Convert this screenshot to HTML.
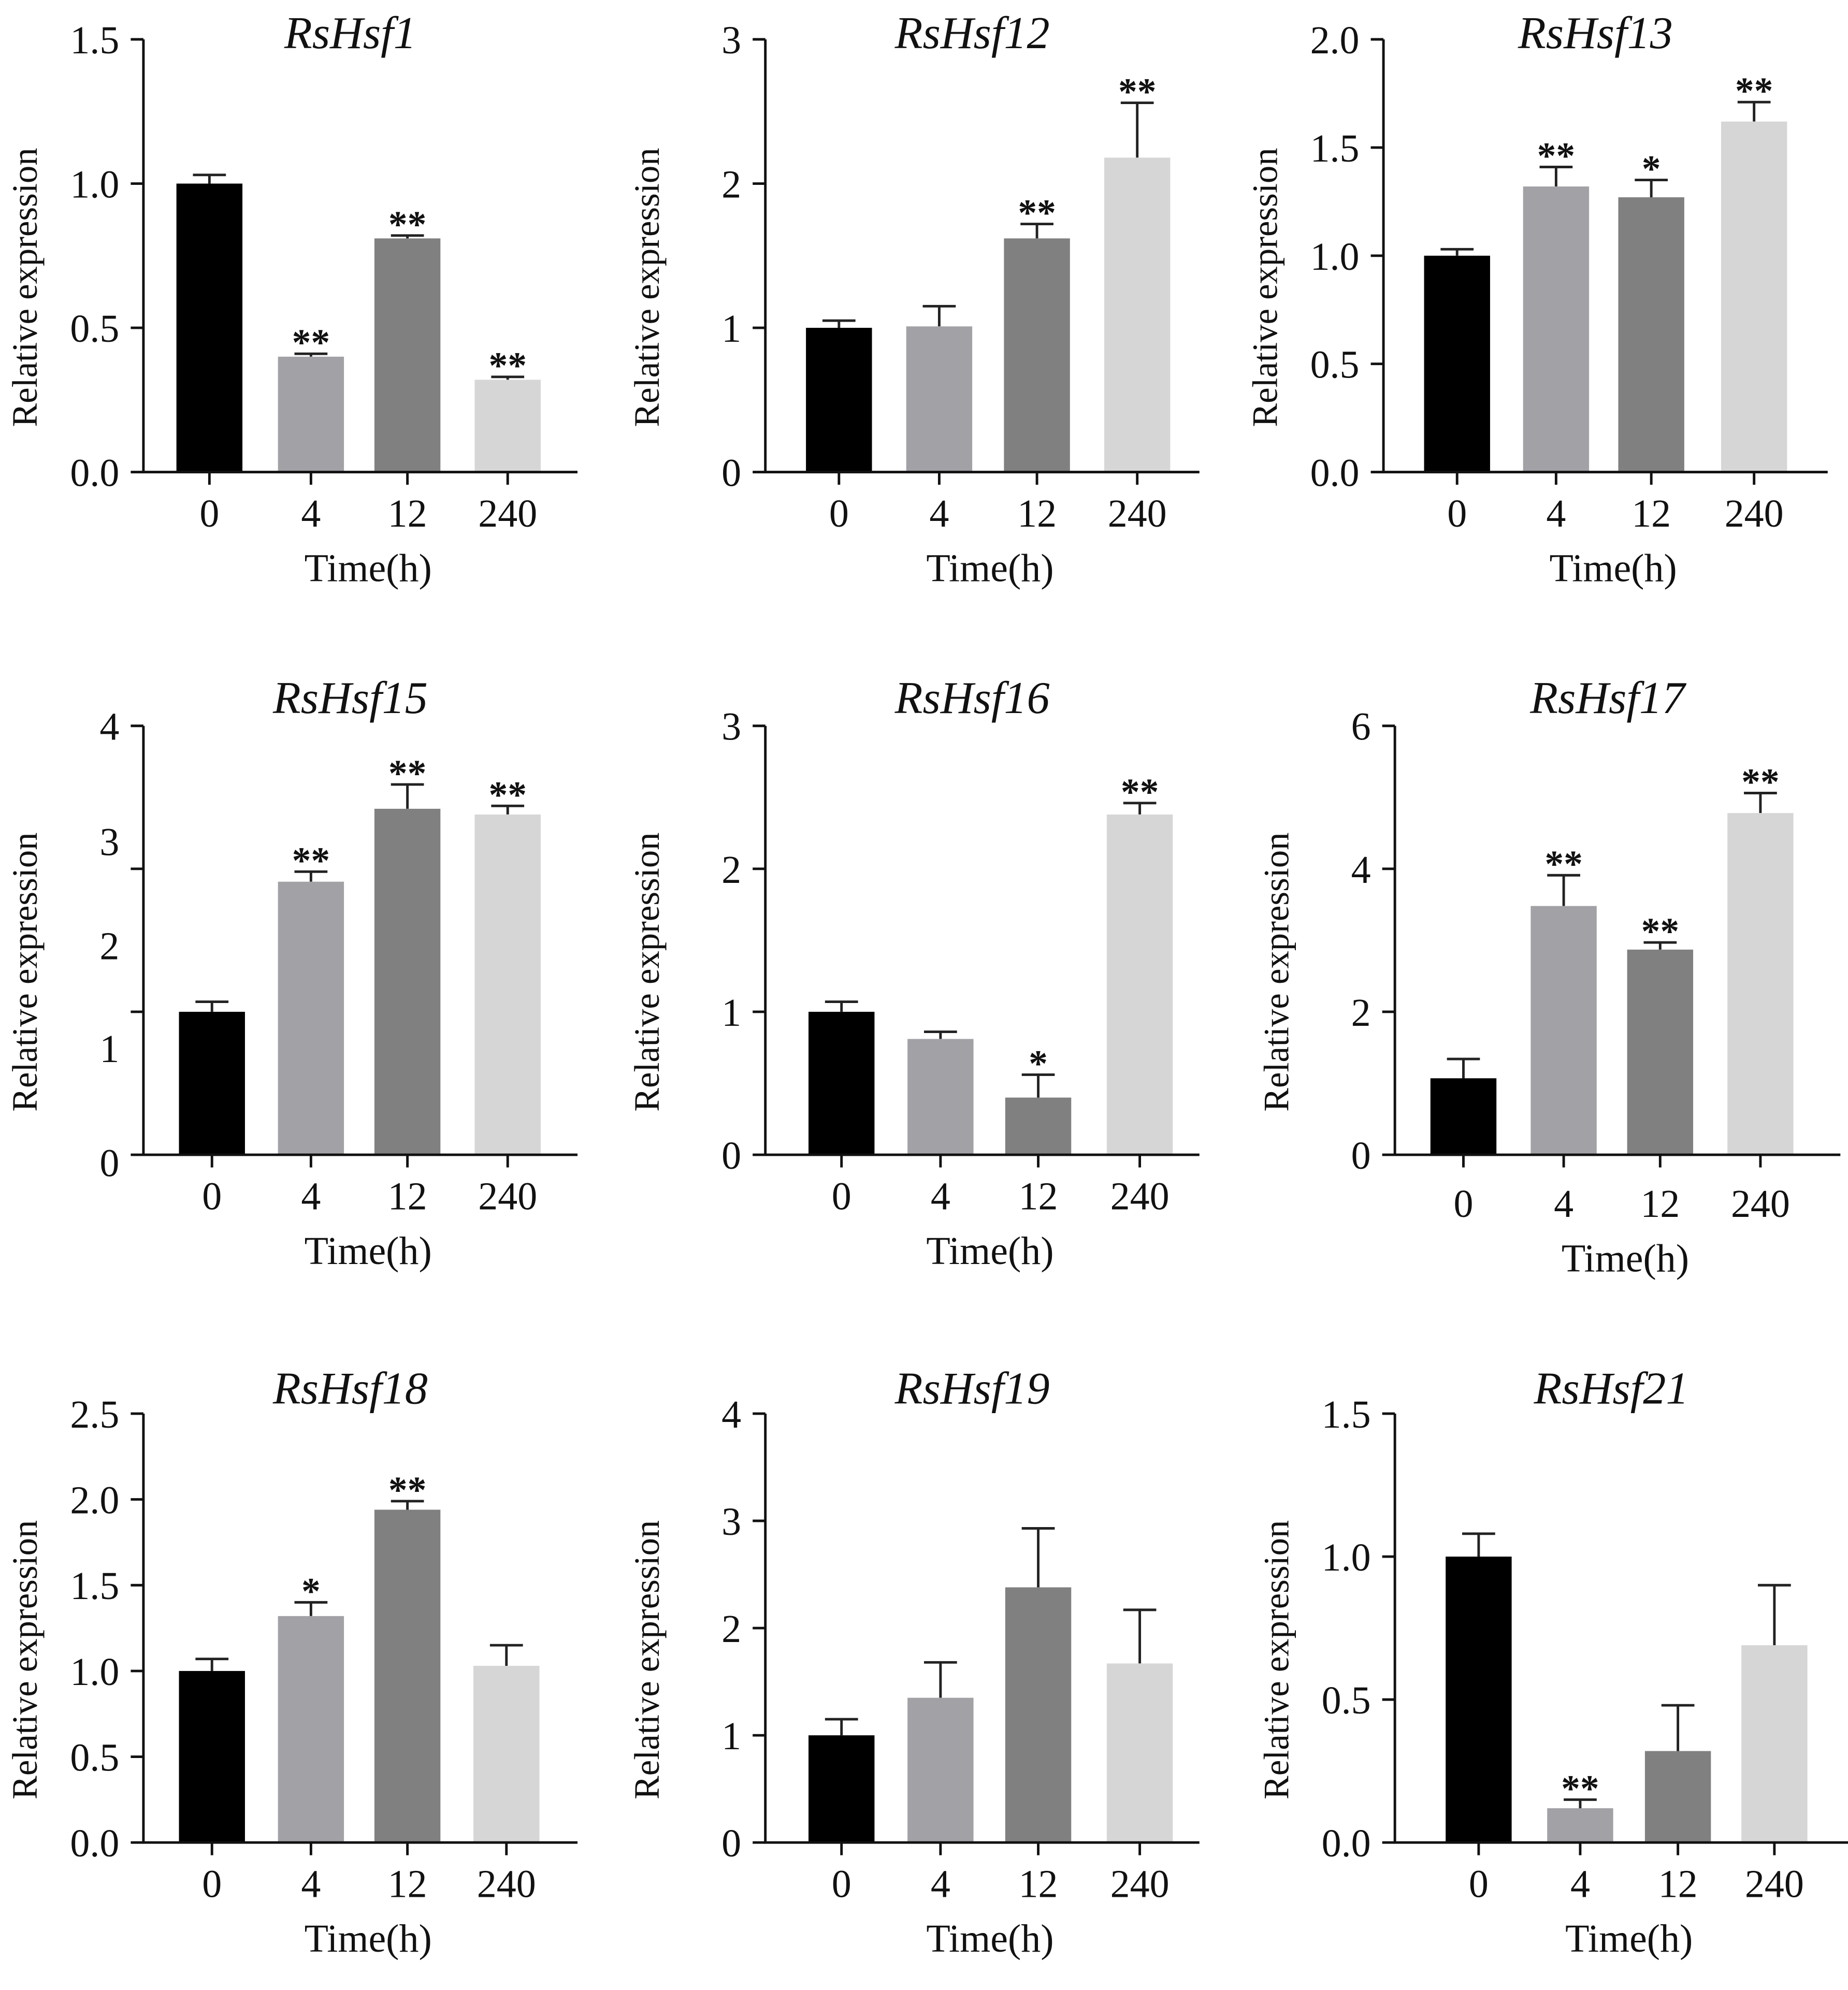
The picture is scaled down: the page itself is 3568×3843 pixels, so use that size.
<!DOCTYPE html>
<html><head><meta charset="utf-8"><style>
html,body{margin:0;padding:0;background:#fff;}
svg{display:block;}
text{font-family:"Liberation Serif",serif;fill:#111;}
</style></head><body>
<svg id="fig" width="3568" height="3843" viewBox="0 0 1456 1568.2" xmlns="http://www.w3.org/2000/svg"></svg>
<script>
const categories = ["0","4","12","240"];
const titles = ["RsHsf1","RsHsf12","RsHsf13","RsHsf15","RsHsf16","RsHsf17","RsHsf18","RsHsf19","RsHsf21"];
const valsHsf1 = [1.0,0.40,0.81,0.32];   const errHsf1 = [0.03,0.01,0.01,0.01];  const sigHsf1 = ["","**","**","**"];
const valsHsf12 = [1.0,1.01,1.62,2.18];  const errHsf12 = [0.05,0.14,0.10,0.38]; const sigHsf12 = ["","","**","**"];
const valsHsf13 = [1.0,1.32,1.27,1.62];  const errHsf13 = [0.03,0.09,0.08,0.09]; const sigHsf13 = ["","**","*","**"];
const valsHsf15 = [1.0,1.91,2.42,2.38];  const errHsf15 = [0.07,0.07,0.17,0.06]; const sigHsf15 = ["","**","**","**"];
const valsHsf16 = [1.0,0.81,0.40,2.38];  const errHsf16 = [0.07,0.05,0.16,0.08]; const sigHsf16 = ["","","*","**"];
const valsHsf17 = [1.07,3.48,2.87,4.78]; const errHsf17 = [0.27,0.43,0.10,0.28]; const sigHsf17 = ["","**","**","**"];
const valsHsf18 = [1.0,1.32,1.94,1.03];  const errHsf18 = [0.07,0.08,0.05,0.12]; const sigHsf18 = ["","*","**",""];
const valsHsf19 = [1.0,1.35,2.38,1.67];  const errHsf19 = [0.15,0.33,0.55,0.50]; const sigHsf19 = ["","","",""];
const valsHsf21 = [1.0,0.12,0.32,0.69];  const errHsf21 = [0.08,0.03,0.16,0.21]; const sigHsf21 = ["","**","",""];
const ticksHsf1 = ["0.0","0.5","1.0","1.5"];
const ticksHsf12 = ["0","1","2","3"];
const ticksHsf13 = ["0.0","0.5","1.0","1.5","2.0"];
const ticksHsf15 = ["0","1","2","3","4"];
const ticksHsf16 = ["0","1","2","3"];
const ticksHsf17 = ["0","2","4","6"];
const ticksHsf18 = ["0.0","0.5","1.0","1.5","2.0","2.5"];
const ticksHsf19 = ["0","1","2","3","4"];
const ticksHsf21 = ["0.0","0.5","1.0","1.5"];

const colors = ["#000000","#a2a1a6","#808080","#d6d6d6"];
const NS = "http://www.w3.org/2000/svg";
const svg = document.getElementById("fig");
function mk(tag, attrs, parent){ const e=document.createElementNS(NS,tag); for(const k in attrs) e.setAttribute(k,attrs[k]); (parent||svg).appendChild(e); return e; }

const panels = [
 {t:0,v:valsHsf1,e:errHsf1,s:sigHsf1,tk:ticksHsf1,max:1.5,x0:113,x1:455,top:31,bot:372,tb:38,cx:[165,245,321,400]},
 {t:1,v:valsHsf12,e:errHsf12,s:sigHsf12,tk:ticksHsf12,max:3,x0:603,x1:945,top:31,bot:372,tb:38,cx:[661,740,817,896]},
 {t:2,v:valsHsf13,e:errHsf13,s:sigHsf13,tk:ticksHsf13,max:2,x0:1090,x1:1440,top:31,bot:372,tb:38,cx:[1148,1226,1301,1382]},
 {t:3,v:valsHsf15,e:errHsf15,s:sigHsf15,tk:ticksHsf15,max:3,x0:113,x1:455,top:572,bot:910,tb:562,cx:[167,245,321,400],odd:[916,826,745,663,572]},
 {t:4,v:valsHsf16,e:errHsf16,s:sigHsf16,tk:ticksHsf16,max:3,x0:603,x1:945,top:572,bot:910,tb:562,cx:[663,741,818,898]},
 {t:5,v:valsHsf17,e:errHsf17,s:sigHsf17,tk:ticksHsf17,max:6,x0:1099,x1:1450,top:572,bot:910,tb:562,cx:[1153,1232,1308,1387],lblOff:6},
 {t:6,v:valsHsf18,e:errHsf18,s:sigHsf18,tk:ticksHsf18,max:2.5,x0:113,x1:455,top:1114,bot:1452,tb:1106,cx:[167,245,321,399]},
 {t:7,v:valsHsf19,e:errHsf19,s:sigHsf19,tk:ticksHsf19,max:4,x0:603,x1:945,top:1114,bot:1452,tb:1106,cx:[663,741,818,898]},
 {t:8,v:valsHsf21,e:errHsf21,s:sigHsf21,tk:ticksHsf21,max:1.5,x0:1099,x1:1456,top:1114,bot:1452,tb:1106,cx:[1165,1245,1322,1398]}
];
const BW = 52;
panels.forEach((p,pi)=>{
  const g = mk("g",{});
  
  
  const y = v => p.bot - v/p.max*(p.bot-p.top);
  p.v.forEach((v,i)=>{
    const x=p.cx[i]-BW/2, yt=y(v), ye=y(v+p.e[i]);
    const eb = mk("path",{d:`M${p.cx[i]} ${yt}V${ye}M${p.cx[i]-13} ${ye}H${p.cx[i]+13}`,stroke:"#222","stroke-width":2,fill:"none"},g);
    
    
    const r = mk("rect",{x:x,y:yt,width:BW,height:p.bot-yt,fill:colors[i]},g);
    
    
    if(p.s[i]){
      const st = mk("text",{x:p.cx[i],y:ye+1,"text-anchor":"middle","font-size":30,"font-family":"Liberation Sans, sans-serif","font-weight":"bold"},g);
      st.textContent = p.s[i];
      
      
    }
  });
  const ax = mk("path",{d:`M${p.x0} ${p.top}V${p.bot}H${p.x1}`,stroke:"#111","stroke-width":2,fill:"none"},g);
  
  
  const nT = p.odd ? 4 : p.tk.length;
  for(let k=0;k<nT;k++){
    const ty = p.bot - k/(nT-1)*(p.bot-p.top);
    mk("path",{d:`M${p.x0-10} ${ty}H${p.x0}`,stroke:"#111","stroke-width":2},g);
  }
  p.tk.forEach((lab,k)=>{
    const ty = p.odd ? p.odd[k] : p.bot - k/(p.tk.length-1)*(p.bot-p.top);
    const tx = mk("text",{x:p.x0-19,y:ty+11,"text-anchor":"end","font-size":31},g);
    tx.textContent = lab;
    
    
  });
  const off = p.lblOff||0;
  categories.forEach((c,i)=>{
    mk("path",{d:`M${p.cx[i]} ${p.bot}V${p.bot+10}`,stroke:"#111","stroke-width":2},g);
    const tx = mk("text",{x:p.cx[i],y:p.bot+43+off,"text-anchor":"middle","font-size":31},g);
    tx.textContent = c;
    
    
  });
  const midx = (p.x0+p.x1)/2;
  const xl = mk("text",{x:midx+6,y:p.bot+86+off,"text-anchor":"middle","font-size":31},g);
  xl.textContent = "Time(h)";
  
  
  const tt = mk("text",{x:midx-8,y:p.tb,"text-anchor":"middle","font-size":36,"font-style":"italic"},g);
  tt.textContent = titles[p.t];
  
  
  const ylx = p.x0 - 84, yly = (p.top+p.bot)/2 + 25;
  const yl = mk("text",{x:ylx,y:yly,"text-anchor":"middle","font-size":28,transform:`rotate(-90 ${ylx} ${yly})`},g);
  yl.textContent = "Relative expression";
  
  
});
</script>
</body></html>
